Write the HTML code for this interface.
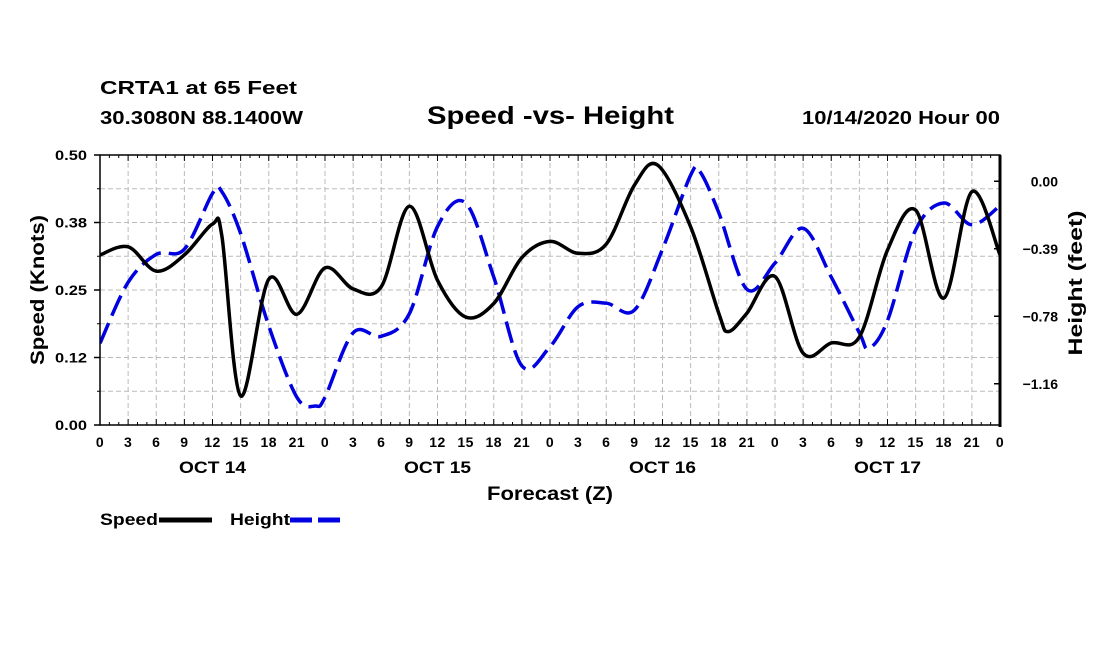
<!DOCTYPE html>
<html><head><meta charset="utf-8"><style>
html,body{margin:0;padding:0;background:#fff;}
svg{display:block;font-family:"Liberation Sans",Arial,sans-serif;font-weight:bold;}
</style></head><body>
<svg id="chart" width="1100" height="650" viewBox="0 0 1100 650" xmlns="http://www.w3.org/2000/svg">
<rect width="1100" height="650" fill="#fff"/>
<text x="100" y="94" font-size="18" textLength="197" lengthAdjust="spacingAndGlyphs">CRTA1 at 65 Feet</text>
<text x="100" y="124" font-size="18" textLength="203" lengthAdjust="spacingAndGlyphs">30.3080N 88.1400W</text>
<text x="427" y="124" font-size="25" textLength="247" lengthAdjust="spacingAndGlyphs">Speed -vs- Height</text>
<text x="802" y="124" font-size="18" textLength="198" lengthAdjust="spacingAndGlyphs">10/14/2020 Hour 00</text>
<g id="grid"></g>
<g id="series"></g>
<g id="axes"></g>
<text transform="translate(44,290) rotate(-90)" font-size="19" text-anchor="middle" textLength="150" lengthAdjust="spacingAndGlyphs">Speed (Knots)</text>
<text transform="translate(1082,283) rotate(-90)" font-size="19" text-anchor="middle" textLength="145" lengthAdjust="spacingAndGlyphs">Height (feet)</text>
<text x="487" y="500" font-size="19" textLength="126" lengthAdjust="spacingAndGlyphs">Forecast (Z)</text>
<g>
<text x="100" y="525" font-size="17" textLength="58" lengthAdjust="spacingAndGlyphs">Speed</text>
<line x1="159" y1="520" x2="212" y2="520" stroke="#000" stroke-width="5"/>
<text x="230" y="525" font-size="17" textLength="60" lengthAdjust="spacingAndGlyphs">Height</text>
<line x1="290" y1="520" x2="342" y2="520" stroke="#0000e0" stroke-width="5" stroke-dasharray="22,6"/>
</g>
</svg>
<script>
const speedHours=[0,3,6,9,12,13,15,18,21,24,27,30,33,36,39,42,45,48,51,54,57,59.5,63,66,67,69,72,75,78,81,84,87,90,93,96];
const speedValues=[0.315,0.330,0.285,0.315,0.372,0.35,0.054,0.27,0.205,0.291,0.252,0.256,0.405,0.268,0.200,0.225,0.310,0.340,0.318,0.335,0.444,0.481,0.367,0.207,0.173,0.207,0.275,0.133,0.152,0.163,0.324,0.398,0.235,0.432,0.315];
const heightHours=[0,3,6,9,12,13,15,18,21,23,24,27,30,33,36,39,42,45,48,51,54,57,60,63,64,66,69,72,75,78,81,82,84,87,90,93,96];
const heightValues=[-0.93,-0.58,-0.42,-0.39,-0.07,-0.06,-0.30,-0.83,-1.24,-1.29,-1.24,-0.87,-0.89,-0.76,-0.26,-0.125,-0.55,-1.06,-0.95,-0.72,-0.70,-0.74,-0.39,0.035,0.055,-0.18,-0.62,-0.47,-0.27,-0.55,-0.87,-0.96,-0.80,-0.28,-0.125,-0.25,-0.14];
const xTickLabels=["0","3","6","9","12","15","18","21"];
const dayLabels=["OCT 14","OCT 15","OCT 16","OCT 17"];
const leftTickValues=[0,0.125,0.25,0.375,0.5];
const leftTickLabels=["0.00","0.12","0.25","0.38","0.50"];
const rightTickValues=[0,-0.3875,-0.775,-1.1625];
const rightTickLabels=["0.00","-0.39","-0.78","-1.16"];

const X0=100,X1=1000,Y0=155,Y1=425;
const xs=h=>X0+(h/96)*(X1-X0);
const yS=v=>Y1-(v/0.5)*(Y1-Y0);
const yH=v=>181.25-v*174.2;
const NS="http://www.w3.org/2000/svg";
function mk(tag,attrs,parent){const e=document.createElementNS(NS,tag);for(const k in attrs)e.setAttribute(k,attrs[k]);parent.appendChild(e);return e;}
const grid=document.getElementById('grid'),axes=document.getElementById('axes'),series=document.getElementById('series');

for(let h=3;h<96;h+=3){
 const g=mk('line',{x1:xs(h),x2:xs(h),y1:Y0,y2:Y1,stroke:'#bbb','stroke-width':1,'stroke-dasharray':'5,3'},grid);
 
 
}
for(let i=1;i<8;i++){
 const v=i*0.0625;
 const g=mk('line',{x1:X0,x2:X1,y1:yS(v),y2:yS(v),stroke:'#bbb','stroke-width':1,'stroke-dasharray':'5,3'},grid);
 
 
}
function path(hours,vals,yf){
 const p=hours.map((h,i)=>[xs(h),yf(vals[i])]);
 let d='M'+p[0][0]+','+p[0][1];
 for(let i=0;i<p.length-1;i++){
  const a=p[Math.max(0,i-1)],b=p[i],c=p[i+1],e=p[Math.min(p.length-1,i+2)];
  const t=1/6;
  d+=' C'+(b[0]+(c[0]-a[0])*t)+','+(b[1]+(c[1]-a[1])*t)+' '+(c[0]-(e[0]-b[0])*t)+','+(c[1]-(e[1]-b[1])*t)+' '+c[0]+','+c[1];
 }
 return d;
}
const clip=mk('clipPath',{id:'pc'},series);mk('rect',{x:X0,y:Y0-30,width:X1-X0,height:Y1-Y0+30},clip);
const hp=mk('path',{d:path(heightHours,heightValues,yH),fill:'none',stroke:'#0000e0','stroke-width':3.5,'stroke-dasharray':'22,8','clip-path':'url(#pc)'},series);


const sp=mk('path',{d:path(speedHours,speedValues,yS),fill:'none',stroke:'#000','stroke-width':3.5,'clip-path':'url(#pc)'},series);



mk('rect',{x:X0,y:Y0,width:X1-X0,height:Y1-Y0,fill:'none',stroke:'#000','stroke-width':1.5},axes);
mk('line',{x1:X1,x2:X1,y1:Y0,y2:Y1+2,stroke:'#000','stroke-width':3},axes);
for(let h=0;h<=96;h++){
 const major=h%3===0;
 mk('line',{x1:xs(h),x2:xs(h),y1:Y1,y2:Y1-(major?6:3),stroke:'#000','stroke-width':1},axes);
 mk('line',{x1:xs(h),x2:xs(h),y1:Y0,y2:Y0+(major?6:3),stroke:'#000','stroke-width':1},axes);
 if(major){
  const t=mk('text',{x:xs(h),y:447,'font-size':14,'text-anchor':'middle','letter-spacing':'0.5'},axes);
  t.textContent=xTickLabels[(h%24)/3];
  
  
 }
}
dayLabels.forEach((d,i)=>{
 const t=mk('text',{x:xs(12+24*i),y:473,'font-size':17,'text-anchor':'middle',textLength:67,lengthAdjust:'spacingAndGlyphs'},axes);
 t.textContent=d;
 
 
});
leftTickValues.forEach((v,i)=>{
 mk('line',{x1:X0-6,x2:X0,y1:yS(v),y2:yS(v),stroke:'#000','stroke-width':1.5},axes);
 const t=mk('text',{x:55,y:yS(v)+5,'font-size':14,textLength:32,lengthAdjust:'spacingAndGlyphs'},axes);
 t.textContent=leftTickLabels[i];
 
 
});
for(let i=1;i<8;i+=2){mk('line',{x1:X0-3,x2:X0,y1:yS(i*0.0625),y2:yS(i*0.0625),stroke:'#000','stroke-width':1},axes);}
rightTickValues.forEach((v,i)=>{
 mk('line',{x1:X1-6,x2:X1,y1:yH(v),y2:yH(v),stroke:'#000','stroke-width':1.5},axes);
 const t=mk('text',{x:1058,y:yH(v)+5,'font-size':14,'text-anchor':'end'},axes);
 t.textContent=rightTickLabels[i].replace('-','\u2212');
 
 
});
</script>
</body></html>
